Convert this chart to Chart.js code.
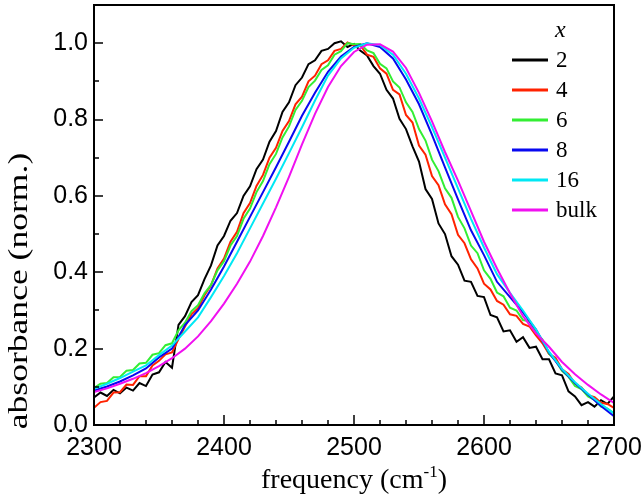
<!DOCTYPE html>
<html>
<head>
<meta charset="utf-8">
<script src="https://cdn.jsdelivr.net/npm/chart.js@4/dist/chart.umd.min.js"></script>
<style>
  html, body { margin: 0; padding: 0; background: #fff; }
  #wrap { width: 644px; height: 500px; }
</style>
</head>
<body>
<div id="wrap"><canvas id="absChart" width="644" height="500"></canvas></div>
<script>
// frequency grids (cm-1)
const freqFine = [2300, 2305, 2310, 2315, 2320, 2325, 2330, 2335, 2340, 2345, 2350, 2355, 2360, 2365, 2370, 2375, 2380, 2385, 2390, 2395,
    2400, 2405, 2410, 2415, 2420, 2425, 2430, 2435, 2440, 2445, 2450, 2455, 2460, 2465, 2470, 2475, 2480, 2485, 2490, 2495,
    2500, 2505, 2510, 2515, 2520, 2525, 2530, 2535, 2540, 2545, 2550, 2555, 2560, 2565, 2570, 2575, 2580, 2585, 2590, 2595,
    2600, 2605, 2610, 2615, 2620, 2625, 2630, 2635, 2640, 2645, 2650, 2655, 2660, 2665, 2670, 2675, 2680, 2685, 2690, 2695, 2700];
const freqCoarse = [2300, 2310, 2320, 2330, 2340, 2350, 2360, 2370, 2380, 2390, 2400, 2410, 2420, 2430, 2440, 2450, 2460, 2470, 2480, 2490,
    2500, 2510, 2520, 2530, 2540, 2550, 2560, 2570, 2580, 2590, 2600, 2610, 2620, 2630, 2640, 2650, 2660, 2670, 2680, 2690, 2700];

// normalized absorbance
const absX2 = [0.072, 0.085, 0.076, 0.092, 0.083, 0.098, 0.090, 0.110, 0.102, 0.132, 0.138, 0.165, 0.150, 0.262, 0.285, 0.322, 0.340, 0.382, 0.418, 0.470,
    0.495, 0.535, 0.555, 0.600, 0.625, 0.670, 0.695, 0.742, 0.770, 0.820, 0.845, 0.890, 0.910, 0.945, 0.955, 0.980, 0.985, 1.000, 1.005, 0.990,
    0.998, 0.980, 0.968, 0.940, 0.920, 0.878, 0.855, 0.802, 0.775, 0.730, 0.690, 0.618, 0.592, 0.528, 0.500, 0.442, 0.420, 0.378, 0.375, 0.338,
    0.335, 0.288, 0.282, 0.245, 0.248, 0.218, 0.230, 0.202, 0.205, 0.172, 0.172, 0.135, 0.130, 0.088, 0.075, 0.052, 0.060, 0.048, 0.065, 0.055, 0.075];
const absX4 = [0.045, 0.060, 0.063, 0.085, 0.086, 0.106, 0.105, 0.128, 0.128, 0.156, 0.168, 0.185, 0.190, 0.225, 0.258, 0.290, 0.306, 0.340, 0.366, 0.410,
    0.436, 0.480, 0.506, 0.555, 0.581, 0.626, 0.655, 0.700, 0.726, 0.770, 0.796, 0.840, 0.860, 0.900, 0.915, 0.945, 0.955, 0.980, 0.985, 1.002,
    0.994, 0.994, 0.970, 0.964, 0.934, 0.920, 0.878, 0.866, 0.812, 0.792, 0.732, 0.708, 0.652, 0.628, 0.578, 0.552, 0.498, 0.476, 0.434, 0.410,
    0.370, 0.355, 0.325, 0.315, 0.290, 0.286, 0.265, 0.258, 0.235, 0.214, 0.186, 0.176, 0.146, 0.134, 0.108, 0.098, 0.078, 0.073, 0.058, 0.055, 0.045];
const absX6 = [0.097, 0.108, 0.110, 0.125, 0.126, 0.142, 0.144, 0.161, 0.163, 0.184, 0.188, 0.209, 0.214, 0.248, 0.268, 0.298, 0.314, 0.345, 0.367, 0.405,
    0.429, 0.470, 0.495, 0.540, 0.567, 0.610, 0.639, 0.683, 0.710, 0.753, 0.782, 0.825, 0.849, 0.885, 0.902, 0.930, 0.942, 0.970, 0.979, 1.000,
    0.997, 0.998, 0.981, 0.974, 0.946, 0.934, 0.900, 0.884, 0.845, 0.820, 0.775, 0.745, 0.695, 0.665, 0.620, 0.595, 0.545, 0.515, 0.470, 0.450,
    0.405, 0.383, 0.347, 0.337, 0.307, 0.300, 0.275, 0.272, 0.242, 0.224, 0.187, 0.169, 0.142, 0.126, 0.102, 0.094, 0.075, 0.066, 0.048, 0.043, 0.031];
const absX8 = [0.090, 0.101, 0.114, 0.130, 0.148, 0.177, 0.200, 0.262, 0.300, 0.355, 0.415, 0.480, 0.545, 0.610, 0.675, 0.742, 0.810, 0.870, 0.925, 0.965,
    0.990, 1.000, 0.990, 0.960, 0.905, 0.840, 0.760, 0.675, 0.591, 0.510, 0.445, 0.375, 0.335, 0.295, 0.250, 0.190, 0.145, 0.110, 0.080, 0.050, 0.023];
const absX16 = [0.095, 0.108, 0.123, 0.140, 0.156, 0.183, 0.208, 0.245, 0.282, 0.335, 0.390, 0.450, 0.515, 0.580, 0.645, 0.712, 0.780, 0.850, 0.915, 0.960,
    0.988, 1.000, 0.995, 0.970, 0.920, 0.855, 0.780, 0.700, 0.620, 0.540, 0.465, 0.395, 0.346, 0.300, 0.250, 0.192, 0.147, 0.112, 0.082, 0.055, 0.030];
const absBulk = [0.086, 0.096, 0.108, 0.121, 0.136, 0.154, 0.175, 0.200, 0.232, 0.272, 0.318, 0.370, 0.428, 0.495, 0.570, 0.650, 0.735, 0.815, 0.885, 0.940,
    0.977, 0.996, 0.997, 0.978, 0.935, 0.870, 0.795, 0.715, 0.640, 0.560, 0.480, 0.410, 0.345, 0.285, 0.240, 0.205, 0.165, 0.133, 0.105, 0.080, 0.058];

const seriesLabels = ['2', '4', '6', '8', '16', 'bulk'];
const seriesColors = ['#000000', '#ff2200', '#33ee33', '#0808f0', '#00e8f4', '#f010f0'];
const xTickValues = [2300, 2400, 2500, 2600, 2700];
const yTickValues = [0, 0.2, 0.4, 0.6, 0.8, 1.0];

function toPoints(xs, ys) {
    return xs.map((f, i) => ({ x: f, y: ys[i] }));
}

const seriesData = [
    toPoints(freqFine, absX2),
    toPoints(freqFine, absX4),
    toPoints(freqFine, absX6),
    toPoints(freqCoarse, absX8),
    toPoints(freqCoarse, absX16),
    toPoints(freqCoarse, absBulk)
];

const serif = '"Liberation Serif", "Times New Roman", serif';
const sans = '"Liberation Sans", Arial, sans-serif';

function noPad(s) {
    s.paddingTop = 0;
    s.paddingBottom = 0;
    s.paddingLeft = 0;
    s.paddingRight = 0;
}

// box, inward ticks, legend and axis titles
const framePlugin = {
    id: 'frame',
    afterDraw(chart) {
        const ctx = chart.ctx;
        const a = chart.chartArea;
        const x = chart.scales.x, y = chart.scales.y;
        ctx.save();
        ctx.strokeStyle = '#000';
        ctx.lineWidth = 2;
        ctx.strokeRect(a.left, a.top, a.right - a.left, a.bottom - a.top);

        ctx.lineWidth = 1.5;
        ctx.beginPath();
        for (let f = 2300; f <= 2700; f += 20) {
            const px = Math.round(x.getPixelForValue(f));
            const len = f % 100 === 0 ? 10 : 5;
            ctx.moveTo(px, a.bottom);
            ctx.lineTo(px, a.bottom - len);
        }
        for (let k = 0; k <= 10; k++) {
            const py = Math.round(y.getPixelForValue(k / 10));
            const len = k % 2 === 0 ? 9 : 5;
            ctx.moveTo(a.left, py);
            ctx.lineTo(a.left + len, py);
        }
        ctx.stroke();

        // legend
        ctx.fillStyle = '#000';
        ctx.textBaseline = 'middle';
        ctx.textAlign = 'left';
        ctx.font = 'italic 24px ' + serif;
        ctx.fillText('x', 555, 31);
        ctx.font = '23px ' + serif;
        seriesLabels.forEach((lab, i) => {
            const ly = 60 + i * 30;
            ctx.strokeStyle = seriesColors[i];
            ctx.lineWidth = 3;
            ctx.beginPath();
            ctx.moveTo(512, ly);
            ctx.lineTo(548, ly);
            ctx.stroke();
            ctx.fillText(lab, 556, ly + 1);
        });

        // x title with superscript
        ctx.textBaseline = 'alphabetic';
        const big = '28px ' + serif, small = '17px ' + serif;
        ctx.font = big;
        const w1 = ctx.measureText('frequency (cm').width;
        const w3 = ctx.measureText(')').width;
        ctx.font = small;
        const w2 = ctx.measureText('-1').width;
        let tx = (a.left + a.right) / 2 - (w1 + w2 + w3) / 2;
        const base = 488;
        ctx.font = big;
        ctx.fillText('frequency (cm', tx, base);
        ctx.font = small;
        ctx.fillText('-1', tx + w1, base - 11);
        ctx.font = big;
        ctx.fillText(')', tx + w1 + w2, base);

        // y title (stretched along its length, as in the figure)
        ctx.translate(27, 291);
        ctx.rotate(-Math.PI / 2);
        ctx.scale(1.27, 1);
        ctx.textAlign = 'center';
        ctx.font = '28px ' + serif;
        ctx.fillText('absorbance (norm.)', 0, 0);
        ctx.restore();
    }
};

new Chart(document.getElementById('absChart'), {
    type: 'line',
    data: {
        datasets: seriesData.map((pts, i) => ({
            label: seriesLabels[i],
            data: pts,
            borderColor: seriesColors[i],
            backgroundColor: seriesColors[i],
            borderWidth: 2,
            pointRadius: 0,
            tension: 0,
            fill: false,
            order: 6 - i
        }))
    },
    options: {
        responsive: false,
        animation: false,
        devicePixelRatio: 1,
        layout: { padding: { left: 0, right: 30, top: 5, bottom: 0 } },
        plugins: {
            legend: { display: false },
            tooltip: { enabled: false }
        },
        scales: {
            x: {
                type: 'linear',
                min: 2300,
                max: 2700,
                afterFit: s => { s.height = 75; noPad(s); },
                afterBuildTicks: s => { s.ticks = xTickValues.map(v => ({ value: v })); },
                grid: { display: false, drawTicks: false },
                border: { display: false },
                ticks: {
                    color: '#000',
                    padding: 8,
                    maxRotation: 0,
                    font: { family: sans, size: 25 },
                    callback: v => String(v)
                }
            },
            y: {
                min: 0,
                max: 1.1,
                afterFit: s => { s.width = 94; noPad(s); },
                afterBuildTicks: s => { s.ticks = yTickValues.map(v => ({ value: v })); },
                grid: { display: false, drawTicks: false },
                border: { display: false },
                ticks: {
                    color: '#000',
                    padding: 6,
                    font: { family: sans, size: 25 },
                    callback: v => v.toFixed(1)
                }
            }
        }
    },
    plugins: [framePlugin]
});
</script>
</body>
</html>
